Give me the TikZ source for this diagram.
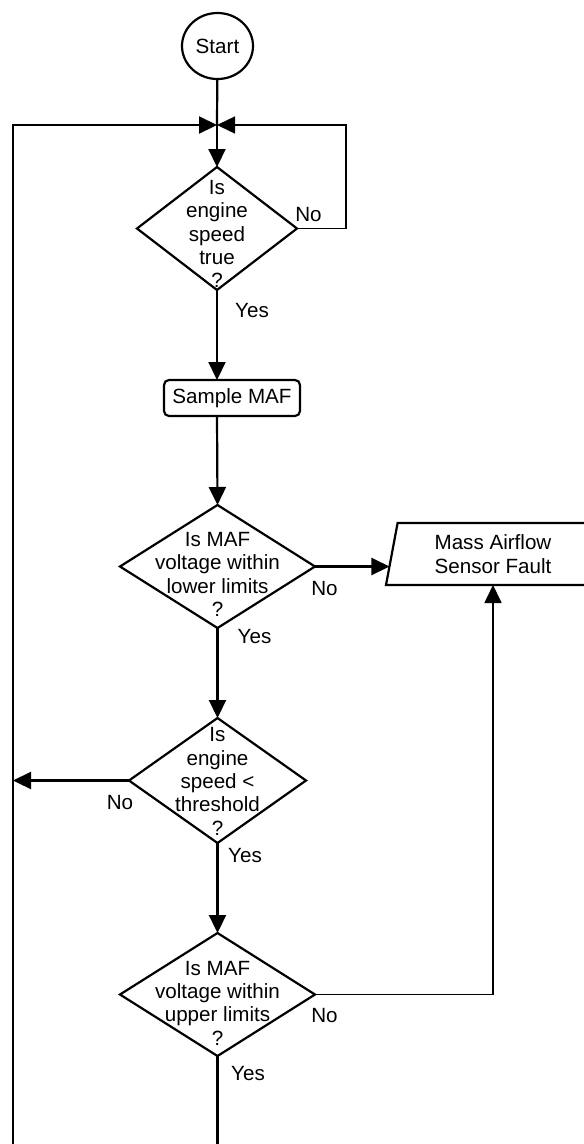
\documentclass[tikz,border=0pt]{standalone}
\usepackage{fontspec}
\setmainfont{Liberation Sans}
\usetikzlibrary{shapes.geometric,arrows.meta,calc}
\begin{document}
\begin{tikzpicture}[x=1pt,y=-1pt,
  font=\fontsize{20.6}{23.3}\selectfont,
  line/.style={line width=2.2pt, line join=miter},
  arr/.style={line, -{Triangle[length=18pt,width=17pt]}},
  terminal/.style={ellipse, draw, line width=2.2pt, minimum width=71pt, minimum height=66pt, inner sep=0pt, outer sep=0pt},
  process/.style={rectangle, rounded corners=5pt, draw, line width=2.2pt, minimum width=136pt, minimum height=36pt, inner sep=0pt, outer sep=0pt},
  decision/.style={diamond, draw, line width=2.2pt, inner sep=0pt, outer sep=0pt},
  dtxt/.style={align=center, inner sep=0pt},
  fault/.style={trapezium, trapezium left angle=74.7, trapezium right angle=105.3,
    trapezium stretches body=true, minimum width=214pt, minimum height=62pt,
    draw, line width=2.2pt, align=center, inner sep=2pt, outer sep=0pt},
  answer/.style={inner sep=0pt},
]
\useasboundingbox (0,0) rectangle (584,1144);
\clip (0,0) rectangle (584,1144);

% shapes
\node[terminal] (start) at (217.5,46) {Start};
\coordinate (jn) at (217,125);
\node[decision, minimum width=160pt, minimum height=123pt,
  label={[dtxt, yshift=-5.5pt]center:{Is\\engine\\speed\\true\\?}}] (d1) at (217,228.5) {};
\node[process] (sample) at (232,398) {Sample MAF};
\node[decision, minimum width=195pt, minimum height=123pt,
  label={[dtxt, yshift=-8pt]center:{Is MAF\\voltage within\\lower limits\\?}}] (d2) at (217.5,566.5) {};
\node[fault] (fault) at (493,554) {Mass Airflow\\Sensor Fault};
\node[decision, minimum width=177pt, minimum height=125pt,
  label={[dtxt, yshift=-1pt]center:{Is\\engine\\speed <\\threshold\\?}}] (d3) at (217.5,780.5) {};
\node[decision, minimum width=195pt, minimum height=123pt,
  label={[dtxt, yshift=-8.5pt]center:{Is MAF\\voltage within\\upper limits\\?}}] (d4) at (217.5,994.5) {};

% answer labels
\node[answer] (n1) at (308.5,214.5) {No};
\node[answer] (y1) at (252,311) {Yes};
\node[answer] (n2) at (324.5,589) {No};
\node[answer] (y2) at (254.5,636.5) {Yes};
\node[answer] (n3) at (120,803) {No};
\node[answer] (y3) at (245,855.5) {Yes};
\node[answer] (n4) at (324.5,1015.5) {No};
\node[answer] (y4) at (248,1074) {Yes};

% helper points for the loops
\coordinate (rl) at (346,125);
\coordinate (back) at (13,1175);
\coordinate (fin) at ($(fault.bottom left corner)!0.3!(fault.top left corner)$);

% connectors
\draw[line] (start) -- (jn);
\draw[arr] (jn) -- (d1.north);
\draw[arr, line width=1.4pt] (d1.east) -- (d1.east -| rl) |- (jn);
\draw[arr] (d1.south) -- (d1.south |- sample.north);
\draw[arr] (d1.south |- sample.south) -- (d2.north);
\draw[arr] (d2.east) -- (d2.east -| fin);
\draw[arr] (d2.south) -- (d3.north);
\draw[arr] (d3.west) -- (d3.west -| back);
\draw[arr] (d3.south) -- (d4.north);
\draw[arr, line width=1.7pt] (d4.east) -| (fault);
\draw[arr] (d4.south) |- (back) -- (back |- jn) -- (jn);
\end{tikzpicture}
\end{document}
